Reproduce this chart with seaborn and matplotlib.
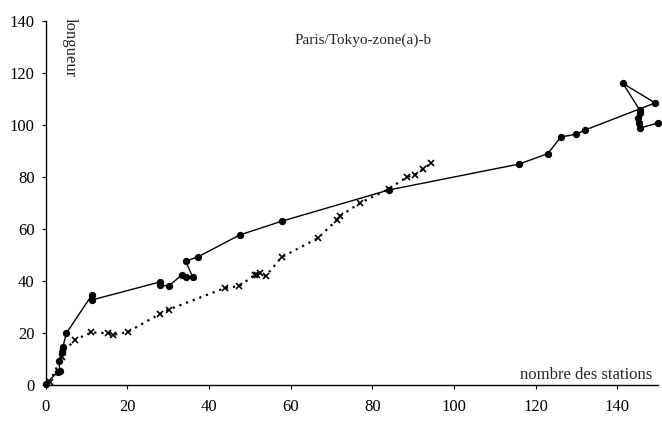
# -*- coding: utf-8 -*-
# Paris/Tokyo-zone(a)-b : longueur vs nombre des stations
import matplotlib
matplotlib.use('Agg')
import numpy as np
import pandas as pd
import seaborn as sns
import matplotlib.pyplot as plt

# série a (trait plein, points)
stations_a = [0, 3, 3.5, 3.2, 3.9, 4.2, 5.1, 11.3, 11.3, 27.9, 27.9, 30.1, 33.3, 34.3, 36.0,
              34.3, 37.2, 47.5, 57.8, 84.0, 116.0, 123.0, 126.2, 130.0, 132.0, 149.3,
              141.4, 145.5, 145.6, 145.2, 145.3, 145.5, 150.0]
longueur_a = [0.5, 5, 5.5, 9.2, 12.7, 14.6, 20, 34.6, 32.7, 39.6, 38.6, 38.0, 42.3, 41.5, 41.5,
              47.7, 49.2, 57.7, 63.0, 75.0, 85.0, 89.0, 95.4, 96.5, 98.0, 108.5,
              116.0, 105.8, 104.6, 102.7, 100.8, 98.8, 100.8]

# série b (pointillés, croix)
stations_b = [1.0, 3.9, 4.2, 7.3, 11.2, 15.2, 16.4, 20.1, 27.9, 30.1, 43.9, 47.3, 51.2, 51.7,
              52.5, 53.9, 57.8, 66.7, 71.3, 72.1, 77.0, 84.0, 88.5, 90.4, 92.4, 94.4]
longueur_b = [1.0, 10.8, 12.7, 17.5, 20.2, 20.0, 19.2, 20.4, 27.3, 29.0, 37.3, 38.0, 42.3, 42.3,
              43.0, 41.9, 49.2, 56.5, 63.5, 65.0, 70.0, 75.4, 80.0, 80.8, 83.0, 85.4]

sns.set_style("ticks")
plt.rcParams['font.family'] = ['Liberation Serif', 'DejaVu Serif']

fig = plt.figure(figsize=(6.62, 4.21), dpi=100)
ax = fig.add_axes([0.069, 0.0855, 0.925, 0.8645])

sns.lineplot(x=stations_a, y=longueur_a, sort=False, estimator=None, ax=ax,
             color='black', linewidth=1.0, marker='o', markersize=4.5,
             markeredgecolor='black', clip_on=False)
sns.lineplot(x=stations_b, y=longueur_b, sort=False, estimator=None, ax=ax,
             color='black', linewidth=1.6, linestyle=(0, (1, 2.2)), marker='x',
             markersize=5, markeredgewidth=1.2, markeredgecolor='black',
             clip_on=False)

ax.set_xlim(0, 150)
ax.set_ylim(0, 140)
ax.set_xticks(range(0, 141, 20))
ax.set_yticks(range(0, 141, 20))
ax.tick_params(axis='both', length=3, width=0.8, labelsize=12, colors='black')
ax.tick_params(axis='x', pad=7)
ax.tick_params(axis='y', pad=5)
sns.despine(ax=ax)
for s in ['left', 'bottom']:
    ax.spines[s].set_color('black')
    ax.spines[s].set_linewidth(1.0)

ax.set_xlabel('')
ax.set_ylabel('')
ax.text(0.518, 0.948, 'Paris/Tokyo-zone(a)-b', transform=ax.transAxes,
        fontsize=11, ha='center', va='center')
ax.text(0.039, 0.926, 'longueur', transform=ax.transAxes, fontsize=12,
        rotation=-90, ha='center', va='center')
ax.text(0.99, 0.027, 'nombre des stations', transform=ax.transAxes,
        fontsize=12, ha='right', va='center')

fig.savefig('out.png', dpi=100)
